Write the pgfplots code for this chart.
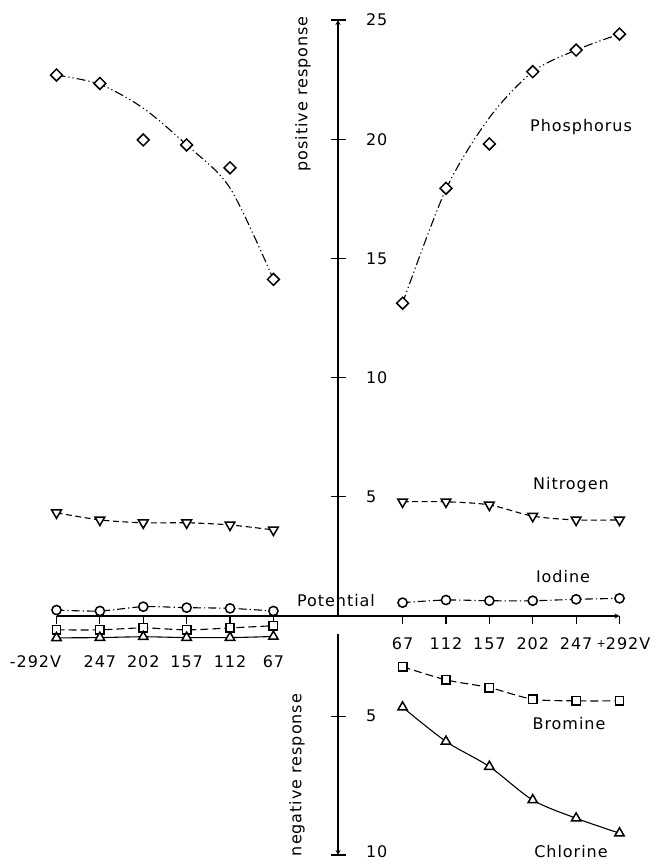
\documentclass[border=0pt]{standalone}
\usepackage{fontspec}
\setmainfont{DejaVu Sans}[LetterSpace=6]
\usepackage{pgfplots}
\pgfplotsset{compat=1.18}
\tikzset{mk/.style={solid, fill=white, line width=1.5pt}}
\newcommand{\fnt}{\fontsize{16}{19}\selectfont}
\pgfplotsset{
  base/.style={scale only axis, width=563pt, xmin=-292, xmax=292, clip=false,
    /pgf/number format/assume math mode=true,
    tick label style={font=\fnt},
    axis line style={-, line width=1.2pt, black},
    every inner x axis line/.append style={-},
    every inner y axis line/.append style={-},
    every outer x axis line/.append style={-},
    every outer y axis line/.append style={-},
    tick style={line width=1.2pt, black},
  },
  curve/.style={smooth, line width=1.1pt, black},
  phos/.style={curve, dash pattern=on 9pt off 3pt on 1.2pt off 3pt on 1.2pt off 3pt},
  nitro/.style={curve, dash pattern=on 6pt off 3.5pt, mark=triangle*, mark size=5.6pt, mark options={mk, rotate=180}},
  iod/.style={curve, dash pattern=on 8pt off 3pt on 1.2pt off 3pt, mark=*, mark size=4.6pt, mark options={mk}},
  brom/.style={curve, dash pattern=on 8pt off 4pt, mark=square*, mark size=4.2pt, mark options={mk}},
  chlor/.style={curve, solid, mark=triangle*, mark size=5.4pt, mark options={mk}},
  diam/.style={only marks, mark=square*, mark size=4.2pt, mark options={mk, rotate=45}},
}
\begin{document}
\begin{tikzpicture}[font=\fnt]
\useasboundingbox (0,0) rectangle (660pt,861pt);

% upper half: positive response
\begin{axis}[base, at={(56.5pt,245pt)}, anchor=south west, height=596pt,
  ymin=0, ymax=25, axis y line=center, axis x line=none,
  ytick={5,10,15,20,25}, xtick=\empty, ytick align=center, major tick length=15pt,
  yticklabel pos=right, yticklabel style={anchor=west, xshift=32pt}]
  % Phosphorus
  \addplot[phos] coordinates {(-292,22.69) (-247,22.30) (-202,21.30) (-157,19.76) (-112,17.95) (-67,14.12)};
  \addplot[diam] coordinates {(-292,22.69) (-247,22.34) (-202,19.97) (-157,19.76) (-112,18.80) (-67,14.12)};
  \addplot[phos] coordinates {(67,13.12) (112,17.90) (157,20.90) (202,22.83) (247,23.74) (292,24.41)};
  \addplot[diam] coordinates {(67,13.12) (112,17.94) (157,19.80) (202,22.83) (247,23.74) (292,24.41)};
  % Nitrogen
  \addplot[nitro] coordinates {(-292,4.33) (-247,4.03) (-202,3.91) (-157,3.91) (-112,3.82) (-67,3.61)};
  \addplot[nitro] coordinates {(67,4.79) (112,4.79) (157,4.66) (202,4.19) (247,4.03) (292,4.03)};
  % Iodine
  \addplot[iod] coordinates {(-292,0.25) (-247,0.21) (-202,0.39) (-157,0.35) (-112,0.32) (-67,0.21)};
  \addplot[iod] coordinates {(67,0.56) (112,0.67) (157,0.64) (202,0.64) (247,0.70) (292,0.74)};
\end{axis}

% potential axis
\begin{axis}[base, at={(56.5pt,245pt)}, anchor=south west, height=20pt,
  ymin=0, ymax=1, axis x line=bottom, axis y line=none, ytick=\empty,
  xtick={67,112,157,202,247,292},
  xticklabels={67,112,157,202,247,{\hspace*{8pt}\raisebox{0.12em}{\fontsize{11}{12}\selectfont+}292V}},
  xticklabel style={yshift=-10pt},
  extra x ticks={-292,-247,-202,-157,-112,-67},
  extra x tick labels={\makebox[9pt][r]{-292V},247,202,157,112,67},
  extra x tick style={xticklabel style={yshift=-18pt}},
  xtick align=outside, major tick length=8pt]
\end{axis}

% lower half: negative response
\begin{axis}[base, at={(56.5pt,6pt)}, anchor=south west, height=221pt,
  ymin=2, ymax=10, y dir=reverse, axis y line=center, axis x line=none,
  ytick={5,10}, yticklabels={5,\raisebox{4pt}{10}}, xtick=\empty, ytick align=center, major tick length=15pt,
  yticklabel pos=right, yticklabel style={anchor=west, xshift=32pt, yshift=1.5pt}]
  % Bromine
  \addplot[brom] coordinates {(-292,1.85) (-247,1.85) (-202,1.78) (-157,1.85) (-112,1.78) (-67,1.70)};
  \addplot[brom] coordinates {(67,3.18) (112,3.66) (157,3.94) (202,4.36) (247,4.42) (292,4.42)};
  % Chlorine
  \addplot[chlor] coordinates {(-292,2.14) (-247,2.13) (-202,2.10) (-157,2.13) (-112,2.13) (-67,2.09)};
  \addplot[chlor] coordinates {(67,4.65) (112,5.89) (157,6.80) (202,8.01) (247,8.67) (292,9.21)};
\end{axis}

\node[rotate=90] at (303pt,767pt) {positive response};
\node[rotate=90] at (297pt,86pt) {negative response};
\node[anchor=base] at (336pt,254pt) {Potential};
\node[anchor=base] at (581pt,729pt) {Phosphorus};
\node[anchor=base] at (571pt,371pt) {Nitrogen};
\node[anchor=base] at (563pt,278pt) {Iodine};
\node[anchor=base] at (569pt,131pt) {Bromine};
\node[anchor=base] at (571pt,3pt) {Chlorine};
\end{tikzpicture}
\end{document}
